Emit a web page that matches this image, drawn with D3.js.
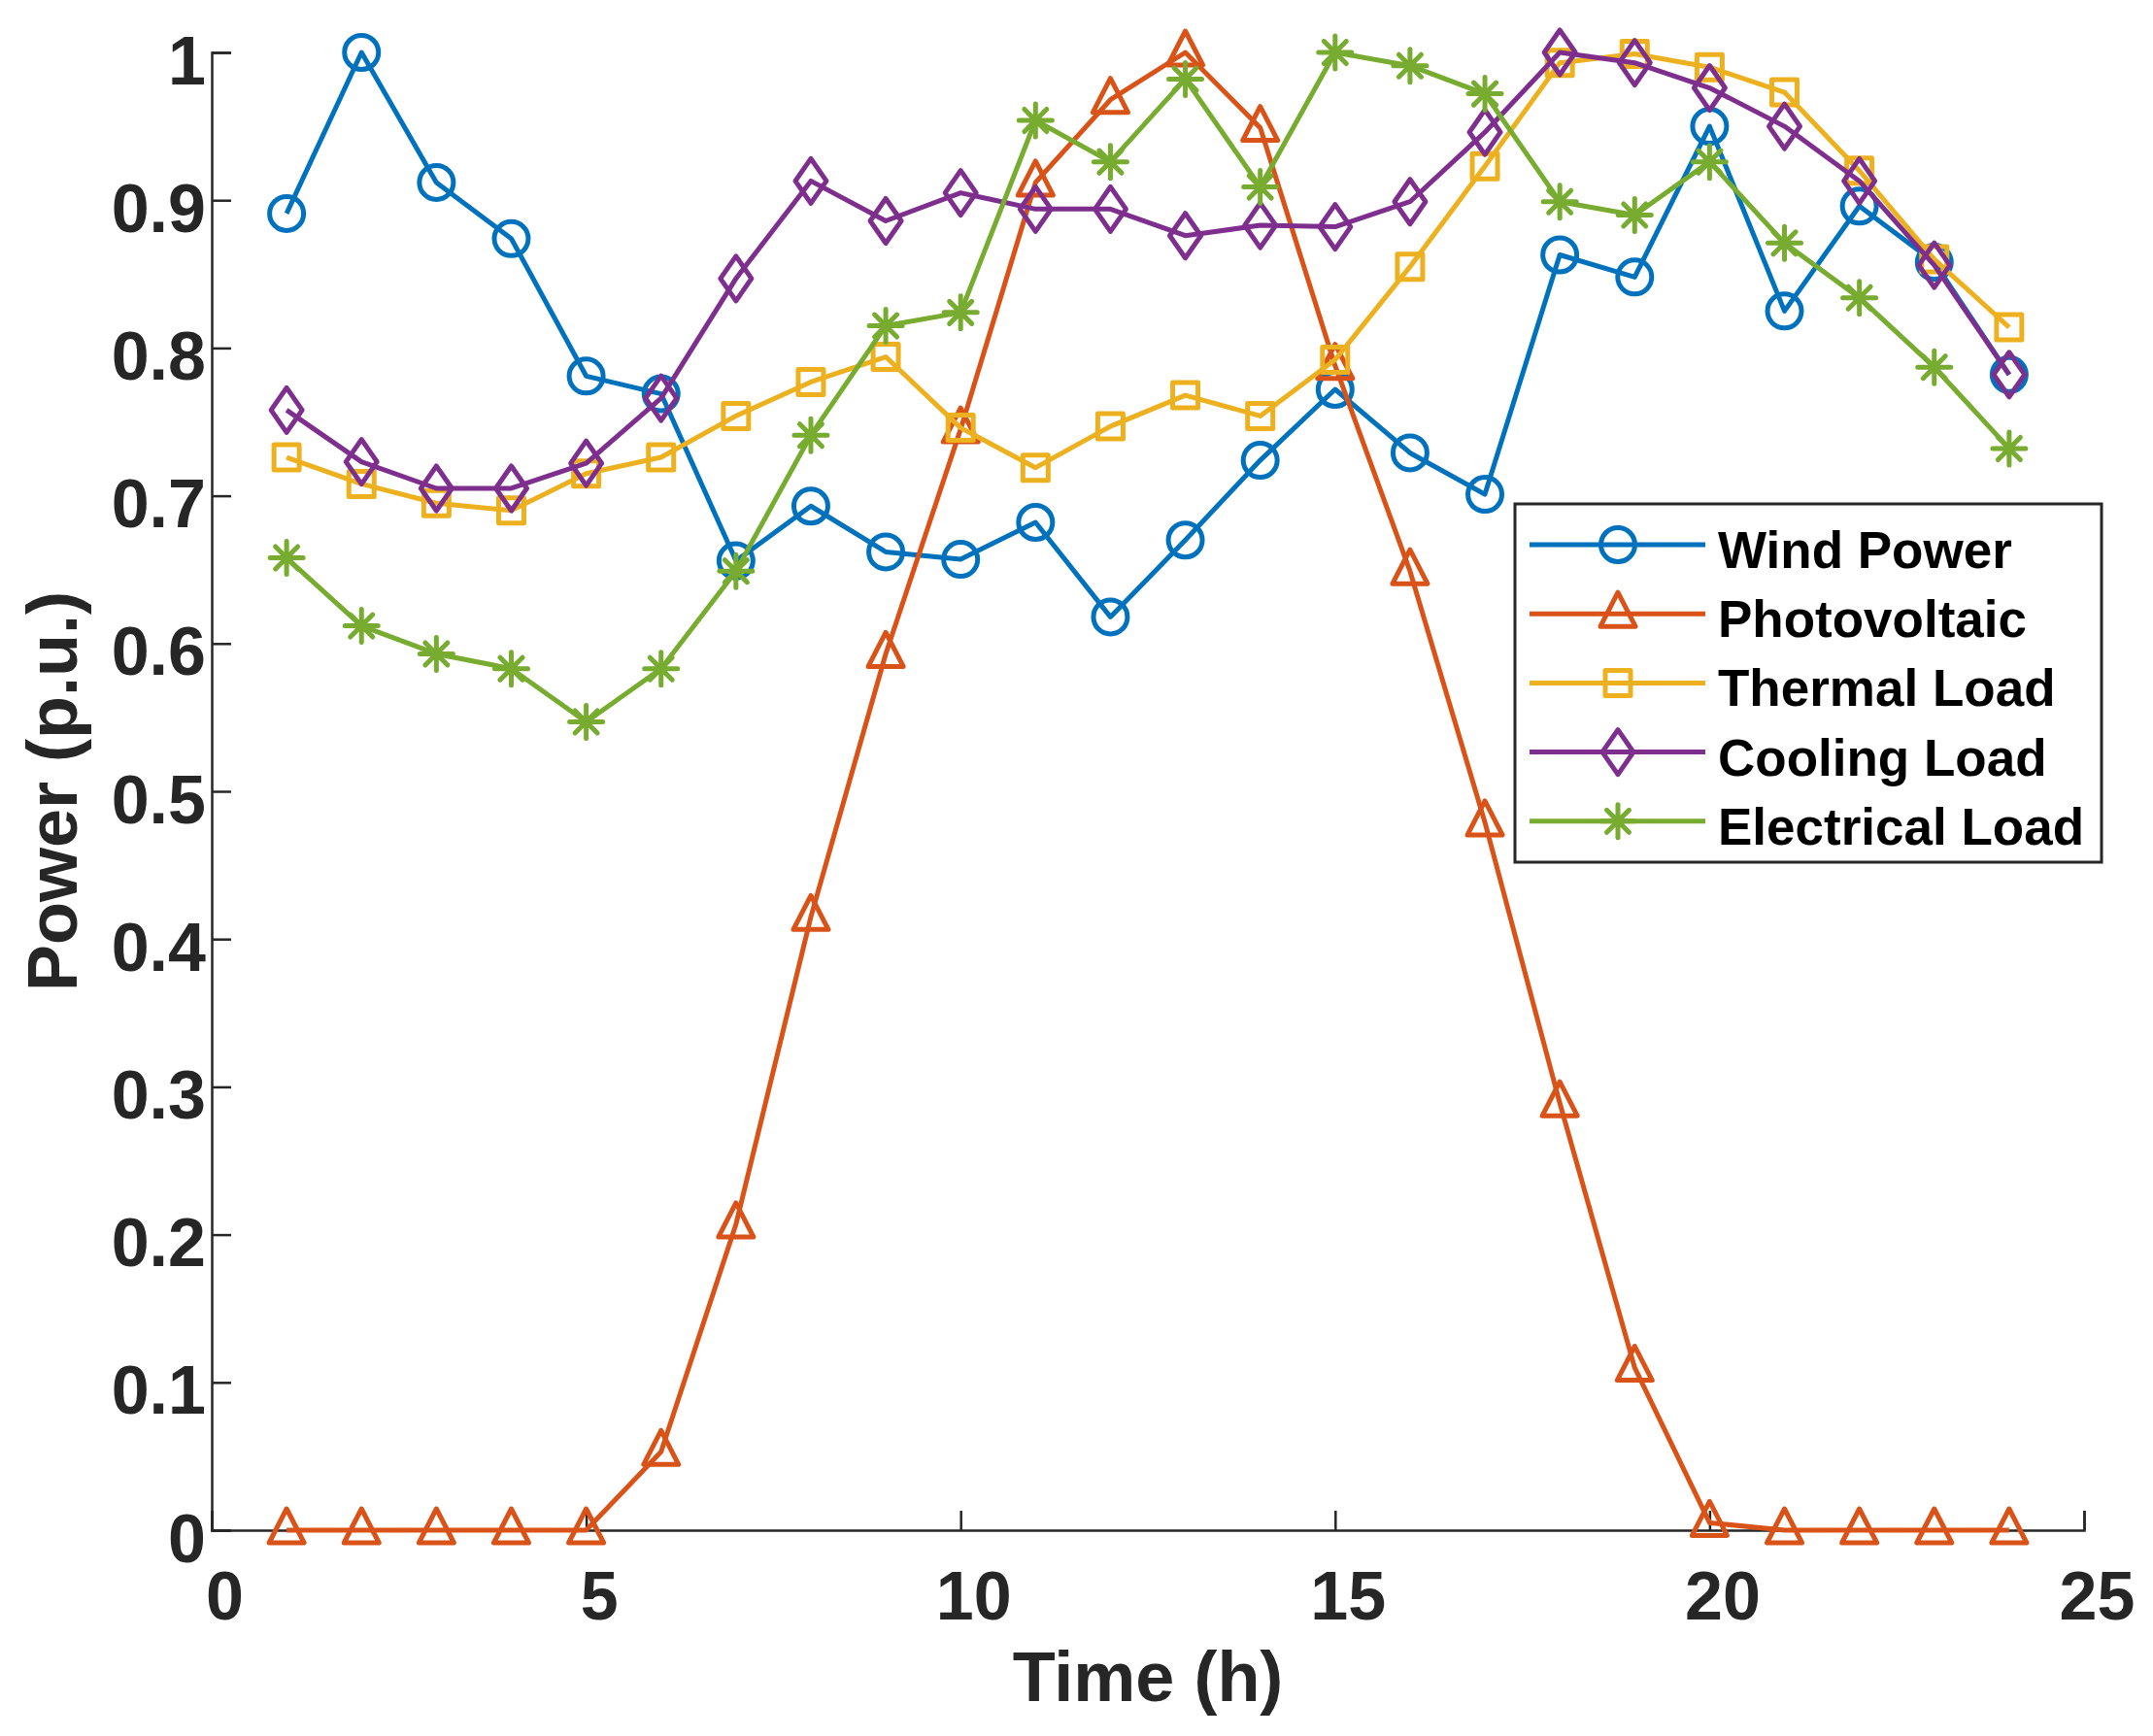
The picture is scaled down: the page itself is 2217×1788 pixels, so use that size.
<!DOCTYPE html>
<html>
<head>
<meta charset="utf-8">
<script src="https://cdn.jsdelivr.net/npm/d3@7"></script>
<style>
  body { margin: 0; background: #fff; }
  svg { display: block; font-family: 'Liberation Sans', Arial, sans-serif; font-weight: bold; }
</style>
</head>
<body>
<svg id="chart" width="2217" height="1788"></svg>
<script>
// hours 1..24
const hours = d3.range(1, 25)

const windPower = [0.891, 1.0, 0.912, 0.874, 0.781, 0.769, 0.656, 0.693, 0.662, 0.657, 0.682, 0.618,
  0.670, 0.724, 0.772, 0.729, 0.701, 0.863, 0.848, 0.950, 0.825, 0.896, 0.858, 0.782]
const photovoltaic = [0, 0, 0, 0, 0, 0.053, 0.207, 0.415, 0.593, 0.745, 0.912, 0.968,
  1.0, 0.949, 0.788, 0.649, 0.479, 0.289, 0.110, 0.005, 0, 0, 0, 0]
const thermalLoad = [0.726, 0.708, 0.695, 0.690, 0.715, 0.726, 0.754, 0.777, 0.794, 0.746, 0.719, 0.747,
  0.768, 0.754, 0.792, 0.855, 0.923, 0.993, 0.999, 0.990, 0.973, 0.920, 0.860, 0.814]
const coolingLoad = [0.758, 0.723, 0.705, 0.705, 0.722, 0.766, 0.847, 0.913, 0.886, 0.905, 0.894, 0.894,
  0.876, 0.883, 0.882, 0.899, 0.946, 1.0, 0.993, 0.976, 0.950, 0.913, 0.856, 0.782]
const electricalLoad = [0.658, 0.612, 0.593, 0.583, 0.547, 0.583, 0.649, 0.741, 0.815, 0.824, 0.954, 0.926,
  0.982, 0.909, 1.0, 0.991, 0.972, 0.899, 0.890, 0.926, 0.871, 0.834, 0.787, 0.732]

const seriesNames = ['Wind Power', 'Photovoltaic', 'Thermal Load', 'Cooling Load', 'Electrical Load']
const seriesValues = [windPower, photovoltaic, thermalLoad, coolingLoad, electricalLoad]
const seriesColors = ['#0072BD', '#D95319', '#EDB120', '#7E2F8E', '#77AC30']
const seriesMarkers = ['circle', 'triangle', 'square', 'diamond', 'asterisk']

const xTicks = [0, 5, 10, 15, 20, 25]
const yTicks = [0, 0.1, 0.2, 0.3, 0.4, 0.5, 0.6, 0.7, 0.8, 0.9, 1]

const axisColor = '#262626'
const margin = { left: 218, right: 71, top: 54, bottom: 212 }
const width = 2217 - margin.left - margin.right
const height = 1788 - margin.top - margin.bottom

const svg = d3.select('#chart')
const g = svg.append('g').attr('transform', `translate(${margin.left},${margin.top})`)

const x = d3.scaleLinear().domain([0, 25]).range([0, width])
const y = d3.scaleLinear().domain([0, 1]).range([height, 0])

function circlePath (r) {
  const p = d3.path()
  p.arc(0, 0, r, 0, 2 * Math.PI)
  p.closePath()
  return p.toString()
}

// marker path for a given symbol, centred on 0,0
function markerPath (type) {
  switch (type) {
    case 'circle': return circlePath(17.5)
    case 'triangle': return 'M0,-22L18,13L-18,13Z'
    case 'square': return 'M-13,-13H13V13H-13Z'
    case 'diamond': return 'M0,-23L16,0L0,23L-16,0Z'
    case 'asterisk': return 'M0,-17V17M-17,0H17M-11.5,-11.5L11.5,11.5M-11.5,11.5L11.5,-11.5'
  }
}

// axes
const xAxis = d3.axisBottom(x).tickValues(xTicks).tickSize(-20).tickFormat(d3.format('d'))
const yAxis = d3.axisLeft(y).tickValues(yTicks).tickSize(-20).tickFormat(d => d === 0 || d === 1 ? d3.format('d')(d) : d3.format('.1f')(d))

const gx = g.append('g').attr('transform', `translate(0,${height})`).call(xAxis)
const gy = g.append('g').call(yAxis)

for (const ax of [gx, gy]) {
  ax.select('.domain').attr('stroke', axisColor).attr('stroke-width', 2.5)
  ax.selectAll('.tick line').attr('stroke', axisColor).attr('stroke-width', 2.5)
  ax.selectAll('.tick text')
    .attr('fill', axisColor)
    .style('font-size', '70px')
    .style('font-weight', 'bold')
    .style('font-family', "'Liberation Sans', Arial, sans-serif")
}
gx.selectAll('.tick text').attr('dy', null).attr('y', 92).attr('x', 13)
gy.selectAll('.tick text').attr('dy', null).attr('x', -6).attr('y', 32)

// axis labels
g.append('text')
  .attr('x', width / 2)
  .attr('y', 1752 - margin.top)
  .attr('text-anchor', 'middle')
  .attr('fill', axisColor)
  .style('font-size', '72px')
  .text('Time (h)')

svg.append('text')
  .attr('transform', `translate(79,${margin.top + height / 2}) rotate(-90)`)
  .attr('text-anchor', 'middle')
  .attr('fill', axisColor)
  .style('font-size', '72px')
  .text('Power (p.u.)')

// lines and markers
const line = d3.line().x((d, i) => x(hours[i])).y(d => y(d))

seriesValues.forEach((values, k) => {
  const s = g.append('g').attr('class', 'series')
  s.append('path')
    .datum(values)
    .attr('d', line)
    .attr('fill', 'none')
    .attr('stroke', seriesColors[k])
    .attr('stroke-width', 5)
    .attr('stroke-linejoin', 'round')

  s.selectAll('path.marker')
    .data(values)
    .enter()
    .append('path')
    .attr('class', 'marker')
    .attr('transform', (d, i) => `translate(${x(hours[i])},${y(d)})`)
    .attr('d', markerPath(seriesMarkers[k]))
    .attr('fill', 'none')
    .attr('stroke', seriesColors[k])
    .attr('stroke-width', 5)
    .attr('stroke-linecap', 'round')
    .attr('stroke-linejoin', 'round')
})

// legend
const legend = svg.append('g')
legend.append('rect')
  .attr('x', 1560)
  .attr('y', 519)
  .attr('width', 604)
  .attr('height', 369)
  .attr('fill', '#fff')
  .attr('stroke', axisColor)
  .attr('stroke-width', 3)

const rows = legend.selectAll('g.row')
  .data(seriesNames)
  .enter()
  .append('g')
  .attr('class', 'row')
  .attr('transform', (d, i) => `translate(0,${561 + i * 71.2})`)

rows.append('line')
  .attr('x1', 1575)
  .attr('x2', 1756)
  .attr('stroke', (d, i) => seriesColors[i])
  .attr('stroke-width', 5)
rows.append('path')
  .attr('transform', 'translate(1666,0)')
  .attr('d', (d, i) => markerPath(seriesMarkers[i]))
  .attr('fill', 'none')
  .attr('stroke', (d, i) => seriesColors[i])
  .attr('stroke-width', 5)
  .attr('stroke-linecap', 'round')
  .attr('stroke-linejoin', 'round')
rows.append('text')
  .attr('x', 1769)
  .attr('y', 24)
  .attr('fill', '#000')
  .style('font-size', '53px')
  .text(d => d)
</script>
</body>
</html>
